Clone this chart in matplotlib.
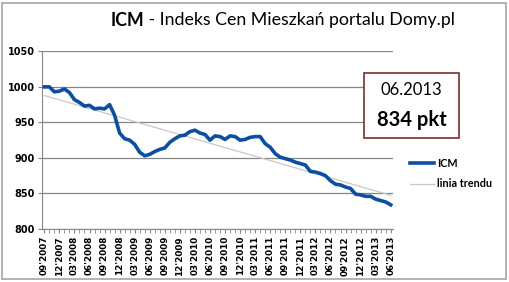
import numpy as np
import matplotlib
matplotlib.use('Agg')
import matplotlib.pyplot as plt
from matplotlib.patches import Rectangle

# monthly ICM values 09'2007 .. 06'2013
icm = [1000, 1000, 993, 994, 997, 992, 982, 978, 973, 974,
       969, 970, 969, 975, 960, 935, 927, 925, 919, 908,
       903, 905, 909, 912, 914, 922, 927, 931, 932, 937,
       939, 935, 933, 925, 931, 930, 926, 931, 930, 925,
       926, 929, 930, 930, 920, 915, 906, 901, 899, 897,
       894, 892, 890, 881, 880, 878, 875, 868, 863, 862,
       859, 857, 849, 848, 846, 846, 842, 840, 838, 834]

tick_labels = ["09'2007", "12'2007", "03'2008", "06'2008", "09'2008", "12'2008",
               "03'2009", "06'2009", "09'2009", "12'2009", "03'2010", "06'2010",
               "09'2010", "12'2010", "03'2011", "06'2011", "09'2011", "12'2011",
               "03'2012", "06'2012", "09'2012", "12'2012", "03'2013", "06'2013"]

yticks = [800, 850, 900, 950, 1000, 1050]

x = np.arange(len(icm))
coef = np.polyfit(x, icm, 1)
trend = np.polyval(coef, x)

fig = plt.figure(figsize=(5.10, 2.82), dpi=100)
fig.patch.set_facecolor('white')
fig.patches.append(Rectangle((0.004, 0.012), 0.988, 0.978, transform=fig.transFigure,
                             fill=False, edgecolor='#a6a6a6', linewidth=1.2))

ax = fig.add_axes([0.082, 0.188, 0.689, 0.630])
ax.plot(x, trend, color='#c8c8c8', linewidth=0.9, label='linia trendu', zorder=2)
ax.plot(x, icm, color='#0b4ea2', linewidth=2.6, label='ICM', zorder=3,
        solid_joinstyle='round')

ax.set_xlim(-0.5, len(icm) - 0.5)
ax.set_ylim(800, 1050)
ax.set_yticks(yticks)
ax.set_yticklabels([str(v) for v in yticks], fontsize=7, fontweight='bold',
                   family='DejaVu Sans')
ax.set_xticks(x[::3])
ax.set_xticklabels(tick_labels, rotation=90, fontsize=6.4, fontweight='bold',
                   family='DejaVu Sans')
ax.set_xticks(x, minor=True)
ax.tick_params(axis='x', which='both', length=3, color='#888888', pad=2)
ax.tick_params(axis='y', length=3, color='#888888', pad=2)
ax.grid(axis='y', color='#868686', linewidth=0.9)
ax.set_axisbelow(True)
for s in ['top', 'right']:
    ax.spines[s].set_visible(False)
ax.spines['left'].set_color('#888888')
ax.spines['bottom'].set_color('#888888')

# title: bold "ICM" followed by regular text
r = fig.canvas.get_renderer()
t1 = fig.text(0.217, 0.928, 'ICM', fontsize=12.8, fontweight='bold', family='Lato',
              va='center', ha='left')
bb = t1.get_window_extent(renderer=r)
fig.text(bb.x1 / fig.bbox.width, 0.928, ' - Indeks Cen Mieszkań portalu Domy.pl',
         fontsize=12.8, family='Lato', va='center', ha='left')

# value box
fig.patches.append(Rectangle((0.714, 0.511), 0.186, 0.231, transform=fig.transFigure,
                             facecolor='white', edgecolor='#7a2e2e', linewidth=1.2, zorder=5))
fig.text(0.807, 0.68, '06.2013', fontsize=12, family='Lato', ha='center', va='center',
         zorder=6)
fig.text(0.807, 0.575, '834 pkt', fontsize=14.5, fontweight='bold', family='Lato',
         ha='center', va='center', zorder=6)

# legend
leg = ax.legend(handles=ax.get_lines()[::-1], loc='center left',
                bbox_to_anchor=(0.785, 0.385), bbox_transform=fig.transFigure,
                frameon=False, prop={'family': 'Lato', 'weight': 'bold', 'size': 7.8},
                handlelength=2.2, handletextpad=0.3, labelspacing=0.9)

fig.savefig('out.png', dpi=100)
